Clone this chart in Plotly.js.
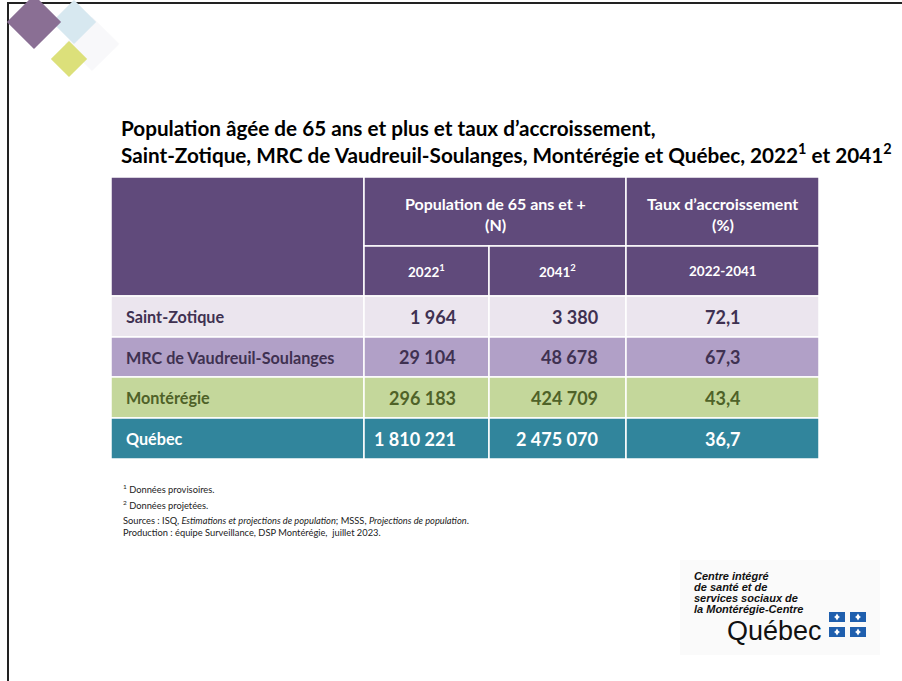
<!DOCTYPE html>
<html><head><meta charset="utf-8">
<script src="https://cdn.plot.ly/plotly-3.0.1.min.js"></script>
<style>html,body{margin:0;padding:0;background:#fff;overflow:hidden}</style>
</head><body><div id="chart" style="width:902px;height:681px"></div>
<script>
// ---------- DATA ----------
const regions = ["Saint-Zotique", "MRC de Vaudreuil-Soulanges", "Montérégie", "Québec"];
const pop2022 = [1964, 29104, 296183, 1810221];
const pop2041 = [3380, 48678, 424709, 2475070];
const growthPct = [72.1, 67.3, 43.4, 36.7];
const groupHeaders = ["Population de 65 ans et +", "(N)", "Taux d’accroissement", "(%)"];
const subHeaders = ["2022<sup>1</sup>", "2041<sup>2</sup>", "2022-2041"];
const titleLines = ["Population âgée de 65 ans et plus et taux d’accroissement,",
  "Saint-Zotique, MRC de Vaudreuil-Soulanges, Montérégie et Québec, 2022<sup>1</sup> et 2041<sup>2</sup>"];
const footnotes = ["<sup>1</sup> Données provisoires.", "<sup>2</sup> Données projetées.",
  "Sources : ISQ, <i>Estimations et projections de population</i>; MSSS, <i>Projections de population</i>.",
  "Production : équipe Surveillance, DSP Montérégie,  juillet 2023."];
const logoLines = ["Centre intégré", "de santé et de", "services sociaux de", "la Montérégie-Centre"];
const logoWord = "Québec";

// ---------- STYLE ----------
const W = 902, H = 681;
const FONT = "Lato, 'Open Sans', sans-serif";
const tableX0 = 111, tableY0 = 177;
const colW = [253, 125, 137, 193];
const headH = [69, 50];
const rowH = [41, 40, 41, 41];
const headFill = "#604A7B";
const rowFill = ["#EBE5EE", "#B1A0C7", "#C4D79B", "#31859C"];
const rowText = ["#3F3151", "#3F3151", "#4F6228", "#FFFFFF"];

const colE = [tableX0];
colW.forEach(w => colE.push(colE[colE.length - 1] + w));
const headE = [tableY0];
headH.forEach(h => headE.push(headE[headE.length - 1] + h));
const rowE = [headE[2]];
rowH.forEach(h => rowE.push(rowE[rowE.length - 1] + h));

const fmtInt = n => String(n).replace(/\B(?=(\d{3})+(?!\d))/g, "\u00a0");
const fmtDec = v => v.toFixed(1).replace(".", ",");

const shapes = [], ann = [];
function rect(x0, x1, y0, y1, fill, lc, lw) {
  shapes.push({type: "rect", xref: "x", yref: "y", x0, x1, y0, y1, fillcolor: fill,
    line: {color: lc || "rgba(0,0,0,0)", width: lw || 0}});
}
function text(t, x, y, size, color, xa) {
  ann.push({text: t, x, y, xref: "x", yref: "y", showarrow: false, xanchor: xa || "center",
    yanchor: "middle", font: {family: FONT, size, color, weight: 700}});
}

// frame
shapes.push({type: "line", xref: "x", yref: "y", x0: 7, x1: W, y0: 3, y1: 3, line: {color: "#222", width: 2}});
shapes.push({type: "line", xref: "x", yref: "y", x0: 8, x1: 8, y0: 3, y1: H, line: {color: "#222", width: 2}});

// decorative diamonds
function diamond(cx, cy, r, fill) {
  shapes.push({type: "path", xref: "x", yref: "y",
    path: `M${cx} ${cy - r} L${cx + r} ${cy} L${cx} ${cy + r} L${cx - r} ${cy} Z`,
    fillcolor: fill, line: {color: fill, width: 3}});
}
diamond(92, 44, 25, "#F8F8FA");
diamond(74, 22, 20, "#D7E8F0");
diamond(34, 22, 25, "#8A6F94");
diamond(69, 59, 16, "#DCE07A");

// header
const WL = "#FFFFFF", LW = 1.5;
rect(colE[0], colE[1], headE[0], headE[2], headFill, WL, LW);
rect(colE[1], colE[3], headE[0], headE[1], headFill, WL, LW);
rect(colE[3], colE[4], headE[0], headE[1], headFill, WL, LW);
for (let c = 1; c <= 3; c++) rect(colE[c], colE[c + 1], headE[1], headE[2], headFill, WL, LW);
const gMid = [(colE[1] + colE[3]) / 2, (colE[3] + colE[4]) / 2];
text(groupHeaders[0], gMid[0], 203, 16, "#fff");
text(groupHeaders[1], gMid[0], 224, 16, "#fff");
text(groupHeaders[2], gMid[1], 203, 16, "#fff");
text(groupHeaders[3], gMid[1], 224, 16, "#fff");
subHeaders.forEach((s, i) => text(s, (colE[i + 1] + colE[i + 2]) / 2, (headE[1] + headE[2]) / 2, 13.5, "#fff"));

// body
regions.forEach((r, i) => {
  const y0 = rowE[i], y1 = rowE[i + 1], ym = (y0 + y1) / 2;
  for (let c = 0; c < 4; c++) rect(colE[c], colE[c + 1], y0, y1, rowFill[i], WL, LW);
  text(r, colE[0] + 13, ym, 16.2, rowText[i], "left");
  text(fmtInt(pop2022[i]), colE[2] - 31, ym, 18, rowText[i], "right");
  text(fmtInt(pop2041[i]), colE[3] - 26, ym, 18, rowText[i], "right");
  text(fmtDec(growthPct[i]), (colE[3] + colE[4]) / 2, ym, 18, rowText[i], "center");
});

// footnotes
const fnY = [489, 505, 520, 532];
footnotes.forEach((f, i) => ann.push({text: f, x: 121, y: fnY[i], xref: "x", yref: "y", showarrow: false,
  xanchor: "left", yanchor: "middle", font: {family: FONT, size: 9.3, color: "#222"}}));

// logo block
rect(680, 880, 560, 655, "#FAFAFA");
logoLines.forEach((l, i) => ann.push({text: "<b><i>" + l + "</i></b>", x: 692, y: 576 + i * 11, xref: "x", yref: "y",
  showarrow: false, xanchor: "left", yanchor: "middle",
  font: {family: "'Liberation Sans', Arial, sans-serif", size: 11, color: "#111"}}));
ann.push({text: logoWord, x: 824, y: 631, xref: "x", yref: "y", showarrow: false, xanchor: "right", yanchor: "middle",
  font: {family: "'Liberation Sans', Arial, sans-serif", size: 27, color: "#111"}});
[[829, 612], [850, 612], [829, 627], [850, 627]].forEach(([fx, fy]) => {
  rect(fx, fx + 16, fy, fy + 10, "#1F5FAE");
  const cx = fx + 8, cy = fy + 5;
  shapes.push({type: "path", xref: "x", yref: "y",
    path: `M${cx} ${cy - 3.5} L${cx + 1.5} ${cy - 1} L${cx + 3} ${cy} L${cx + 1.5} ${cy + 1} L${cx} ${cy + 3.5} L${cx - 1.5} ${cy + 1} L${cx - 3} ${cy} L${cx - 1.5} ${cy - 1} Z`,
    fillcolor: "#fff", line: {width: 0}});
});

const layout = {
  width: W, height: H, margin: {l: 0, r: 0, t: 0, b: 0},
  paper_bgcolor: "#fff", plot_bgcolor: "#fff", showlegend: false,
  title: {text: titleLines.join("<br>"), xref: "container", yref: "container",
    x: 121 / W, xanchor: "left", y: 1 - 136 / H, yanchor: "top",
    font: {family: FONT, size: 20.7, color: "#000", weight: 700}},
  xaxis: {range: [0, W], visible: false, fixedrange: true},
  yaxis: {range: [H, 0], visible: false, fixedrange: true},
  shapes, annotations: ann
};
Plotly.newPlot("chart", [{x: [], y: [], type: "scatter", mode: "markers", hoverinfo: "skip"}], layout,
  {displayModeBar: false, staticPlot: true});
</script></body></html>
